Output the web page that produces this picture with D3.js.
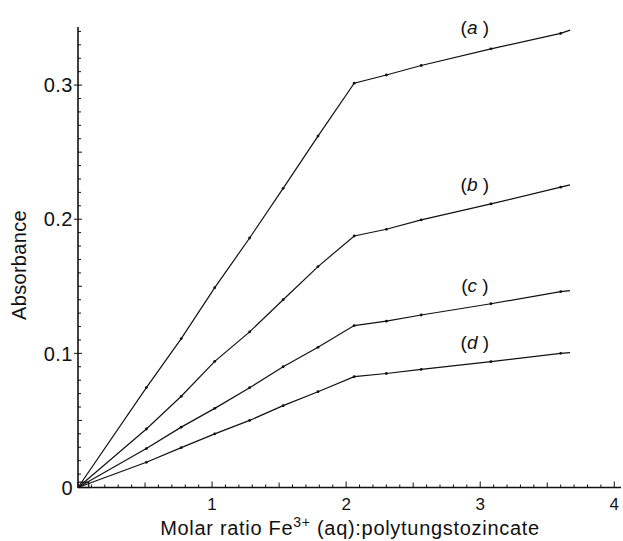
<!DOCTYPE html>
<html>
<head>
<meta charset="utf-8">
<script src="https://cdn.jsdelivr.net/npm/d3@7"></script>
<style>
  body { margin: 0; background: #fff; }
  text { font-family: "Liberation Sans", Arial, sans-serif; fill: #111; }
</style>
</head>
<body>
<div id="chart-area"></div>
<script>
// Data
var ratio = [0, 0.51, 0.77, 1.02, 1.28, 1.53, 1.79, 2.06, 2.30, 2.56, 3.08, 3.60, 3.67];
var seriesA = [0, 0.0745, 0.111, 0.149, 0.186, 0.223, 0.262, 0.3014, 0.3075, 0.3146, 0.327, 0.3385, 0.341];
var seriesB = [0, 0.0436, 0.068, 0.094, 0.116, 0.140, 0.1647, 0.1875, 0.1925, 0.1995, 0.2114, 0.2239, 0.2256];
var seriesC = [0, 0.029, 0.045, 0.059, 0.0744, 0.090, 0.1045, 0.1207, 0.124, 0.1286, 0.137, 0.146, 0.1468];
var seriesD = [0, 0.0188, 0.0297, 0.040, 0.050, 0.061, 0.0714, 0.0826, 0.085, 0.088, 0.0938, 0.100, 0.1005];
var seriesNames = ["a", "b", "c", "d"];
var labelX = [2.96, 2.96, 2.96, 2.96];
var labelY = [0.338, 0.221, 0.1458, 0.1033];
var xTickLabels = [1, 2, 3, 4];
var yTickLabels = [0, 0.1, 0.2, 0.3];

var margin = {top: 27, right: 2, bottom: 53.5, left: 78};
var width = 623 - margin.left - margin.right;
var height = 541 - margin.top - margin.bottom;

var svg = d3.select("#chart-area").append("svg").attr("width", 623).attr("height", 541);
var g = svg.append("g").attr("transform", "translate(" + margin.left + ", " + margin.top + ")");

// Scales
var x = d3.scaleLinear().domain([0, 4.05]).range([0, width]);
var y = d3.scaleLinear().domain([0, 0.3433]).range([height, 0]);

// Axes lines
g.append("line").attr("x1", 0).attr("x2", 0).attr("y1", 0).attr("y2", height)
  .attr("stroke", "#111").attr("stroke-width", 1.6);
g.append("line").attr("x1", 0).attr("x2", width).attr("y1", height).attr("y2", height)
  .attr("stroke", "#111").attr("stroke-width", 1.6);

// Y ticks
var yMinor = d3.range(1, 35).map(function(i) { return i / 100; });
g.selectAll(".ytick").data(yMinor).enter().append("line")
  .attr("x1", function(d) { return (Math.round(d * 100) % 10 === 0) ? -4 : 0; })
  .attr("x2", function(d) { return (Math.round(d * 100) % 5 === 0) ? 4 : 3; })
  .attr("y1", function(d) { return y(d); }).attr("y2", function(d) { return y(d); })
  .attr("stroke", "#111").attr("stroke-width", 1);
g.selectAll(".ylab").data(yTickLabels).enter().append("text")
  .attr("x", -5).attr("y", function(d) { return y(d); }).attr("dy", "0.36em")
  .attr("text-anchor", "end").attr("font-size", "20px").attr("letter-spacing", "0.5px")
  .text(function(d) { return d === 0 ? "0" : d3.format(".1f")(d); });

// X ticks
var xMinor = d3.range(1, 41).map(function(i) { return i / 10; });
g.selectAll(".xtick").data(xMinor).enter().append("line")
  .attr("x1", function(d) { return x(d); }).attr("x2", function(d) { return x(d); })
  .attr("y1", height)
  .attr("y2", function(d) { var k = Math.round(d * 10); return height - (k % 10 === 0 ? 6 : (k % 5 === 0 ? 5 : 3)); })
  .attr("stroke", "#111").attr("stroke-width", 1);
g.selectAll(".xlab").data(xTickLabels).enter().append("text")
  .attr("x", function(d) { return x(d); }).attr("y", 510 - margin.top)
  .attr("text-anchor", "middle").attr("font-size", "17px")
  .text(function(d) { return d; });

// Axis titles
var xt = g.append("text").attr("x", 350 - margin.left).attr("y", 535 - margin.top)
  .attr("text-anchor", "middle").attr("font-size", "20px").attr("letter-spacing", "0.7px");
xt.append("tspan").text("Molar ratio Fe");
xt.append("tspan").attr("dy", -8).attr("font-size", "14px").text("3+");
xt.append("tspan").attr("dy", 8).text(" (aq):polytungstozincate");

g.append("text").attr("transform", "rotate(-90)").attr("x", -(265 - margin.top)).attr("y", 26 - margin.left)
  .attr("text-anchor", "middle").attr("font-size", "20px").attr("letter-spacing", "0.3px").text("Absorbance");

// Lines
var allSeries = [seriesA, seriesB, seriesC, seriesD];
var line = d3.line().x(function(d) { return x(d[0]); }).y(function(d) { return y(d[1]); });

allSeries.forEach(function(s, i) {
  var pts = ratio.map(function(r, j) { return [r, s[j]]; });
  g.append("path").datum(pts).attr("d", line)
    .attr("fill", "none").attr("stroke", "#111").attr("stroke-width", 1.2);
  g.selectAll(".pt" + i).data(pts.slice(1, pts.length - 1)).enter().append("circle")
    .attr("cx", function(d) { return x(d[0]); }).attr("cy", function(d) { return y(d[1]); })
    .attr("r", 1.4).attr("fill", "#111");
  var lab = g.append("text").attr("x", x(labelX[i])).attr("y", y(labelY[i]))
    .attr("text-anchor", "middle").attr("font-size", "19px");
  lab.append("tspan").text("(");
  lab.append("tspan").attr("font-style", "italic").text(seriesNames[i]);
  lab.append("tspan").text(" )");
});

// cluster at the origin
g.append("rect").attr("x", x(0)).attr("y", y(0.004)).attr("width", x(0.08) - x(0)).attr("height", y(0) - y(0.004))
  .attr("fill", "none").attr("stroke", "#111").attr("stroke-width", 1.2);
</script>
</body>
</html>
